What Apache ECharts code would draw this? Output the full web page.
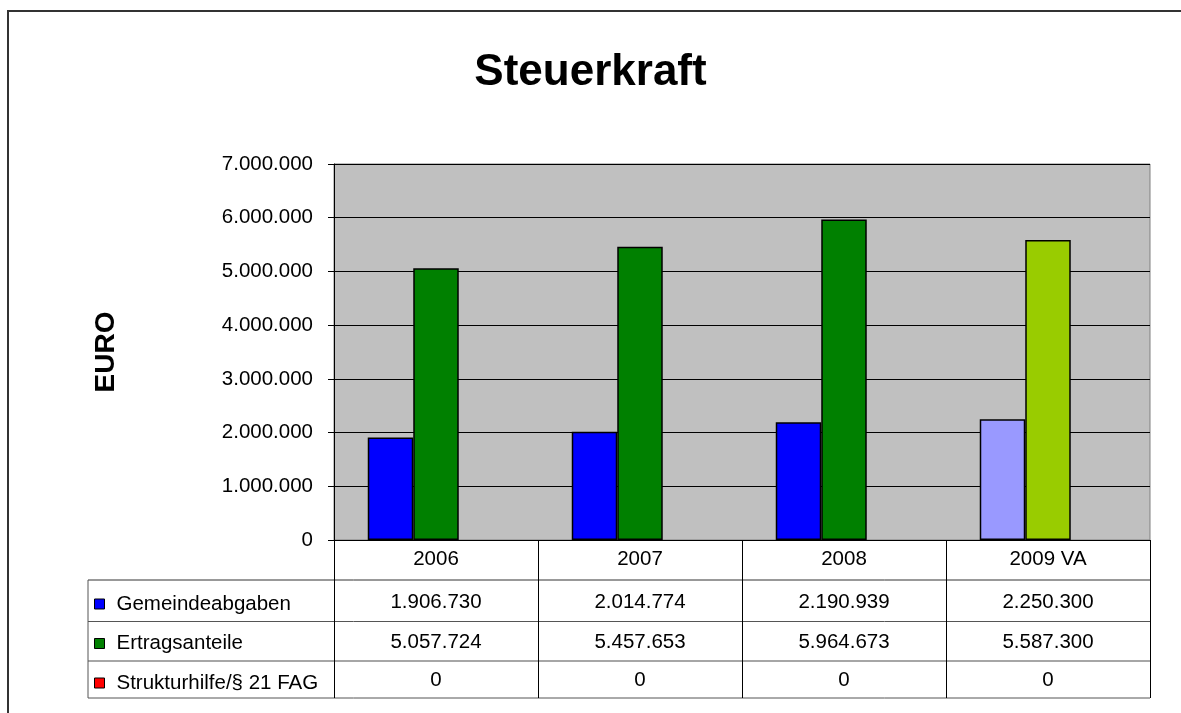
<!DOCTYPE html>
<html><head><meta charset="utf-8">
<script src="https://cdn.jsdelivr.net/npm/echarts@6/dist/echarts.min.js"></script>
<style>html,body{margin:0;padding:0;background:#fff}#c{width:1181px;height:713px}</style>
</head><body><div id="c"></div>
<script>
// ---- data ----
const categories = ['2006', '2007', '2008', '2009 VA'];
const gemeindeabgaben = [1906730, 2014774, 2190939, 2250300];
const ertragsanteile = [5057724, 5457653, 5964673, 5587300];
const strukturhilfe = [0, 0, 0, 0];
const seriesNames = ['Gemeindeabgaben', 'Ertragsanteile', 'Strukturhilfe/§ 21 FAG'];
const forecastCategory = '2009 VA';
const yMin = 0, yMax = 7000000, yStep = 1000000;

// ---- styles ----
const FONT = '"Liberation Sans", Arial, sans-serif';
const FS = 20.5;
const colors = ['#0000FF', '#008000', '#FF0000'];
const forecastColors = ['#9999FF', '#99CC00', '#FF0000'];

function fmt(v) {
  return String(Math.round(v)).replace(/\B(?=(\d{3})+(?!\d))/g, '.');
}

const seriesValues = [gemeindeabgaben, ertragsanteile, strukturhilfe];

function buildData(vals, si) {
  return vals.map((v, i) => categories[i] === forecastCategory
    ? { value: v, itemStyle: { color: forecastColors[si] } }
    : v);
}

const chart = echarts.init(document.getElementById('c'), null, { renderer: 'canvas' });

const rowMargins = [52, 92, 130];
const valueAxes = seriesValues.map((vals, si) => ({
  type: 'category',
  gridIndex: 0,
  position: 'bottom',
  data: categories,
  axisLine: { show: false },
  axisTick: { show: false },
  splitLine: { show: false },
  axisLabel: {
    interval: 0,
    margin: rowMargins[si],
    color: '#000',
    fontFamily: FONT,
    fontSize: FS,
    formatter: (val, idx) => fmt(vals[idx])
  }
}));

const option = {
  backgroundColor: '#ffffff',
  animation: false,
  title: {
    text: 'Steuerkraft',
    left: 'center',
    top: 46,
    textStyle: { fontFamily: FONT, fontSize: 44, fontWeight: 'bold', color: '#000' }
  },
  legend: {
    data: seriesNames.map((n, si) => ({
      name: n,
      itemStyle: { color: colors[si], borderColor: '#000', borderWidth: 1 }
    })),
    orient: 'vertical',
    left: 94,
    top: 593.5,
    padding: 0,
    itemWidth: 10,
    itemHeight: 10,
    itemGap: 18.5,
    icon: 'rect',
    selectedMode: false,
    textStyle: { fontFamily: FONT, fontSize: FS, color: '#000', lineHeight: 20, padding: [0, 0, 0, 7] }
  },
  grid: {
    left: 334, top: 164, right: 31, bottom: 173,
    show: true,
    backgroundColor: '#C0C0C0',
    borderColor: '#808080',
    borderWidth: 1,
    containLabel: false
  },
  xAxis: [{
    type: 'category',
    data: categories,
    boundaryGap: true,
    axisLine: { show: true, lineStyle: { color: '#000', width: 1 } },
    axisTick: { show: true, length: 158, alignWithLabel: false, lineStyle: { color: '#000', width: 1 } },
    axisLabel: { interval: 0, margin: 9, color: '#000', fontFamily: FONT, fontSize: FS },
    splitLine: { show: false }
  }].concat(valueAxes),
  yAxis: {
    type: 'value',
    min: yMin,
    max: yMax,
    interval: yStep,
    name: 'EURO',
    nameLocation: 'middle',
    nameRotate: 90,
    nameGap: 214,
    nameTextStyle: { fontFamily: FONT, fontSize: 28, fontWeight: 'bold', color: '#000' },
    axisLine: { show: true, lineStyle: { color: '#000', width: 1 } },
    axisTick: { show: true, length: 6, lineStyle: { color: '#000' } },
    axisLabel: { margin: 21, color: '#000', fontFamily: FONT, fontSize: FS, formatter: v => fmt(v) },
    splitLine: { show: true, lineStyle: { color: '#000', width: 1 } }
  },
  series: seriesValues.map((vals, si) => ({
    name: seriesNames[si],
    type: 'bar',
    xAxisIndex: 0,
    barWidth: 45.5,
    barGap: '0%',
    itemStyle: {
      color: colors[si],
      borderColor: '#000',
      borderWidth: si === 2 ? 0 : 1.5
    },
    data: buildData(vals, si)
  })),
  graphic: [
    { type: 'rect', shape: { x: 8, y: 11, width: 1300, height: 800 }, style: { fill: 'none', stroke: '#333', lineWidth: 2 }, silent: true },
    { type: 'line', shape: { x1: 88, y1: 580, x2: 1150, y2: 580 }, style: { stroke: '#333', lineWidth: 1 } },
    { type: 'line', shape: { x1: 88, y1: 621.5, x2: 1150, y2: 621.5 }, style: { stroke: '#555', lineWidth: 1 } },
    { type: 'line', shape: { x1: 88, y1: 661, x2: 1150, y2: 661 }, style: { stroke: '#888', lineWidth: 1.5 } },
    { type: 'line', shape: { x1: 88, y1: 698, x2: 1150, y2: 698 }, style: { stroke: '#555', lineWidth: 1 } },
    { type: 'line', shape: { x1: 88, y1: 580, x2: 88, y2: 698 }, style: { stroke: '#555', lineWidth: 1 } }
  ]
};
chart.setOption(option);
</script>
</body></html>
